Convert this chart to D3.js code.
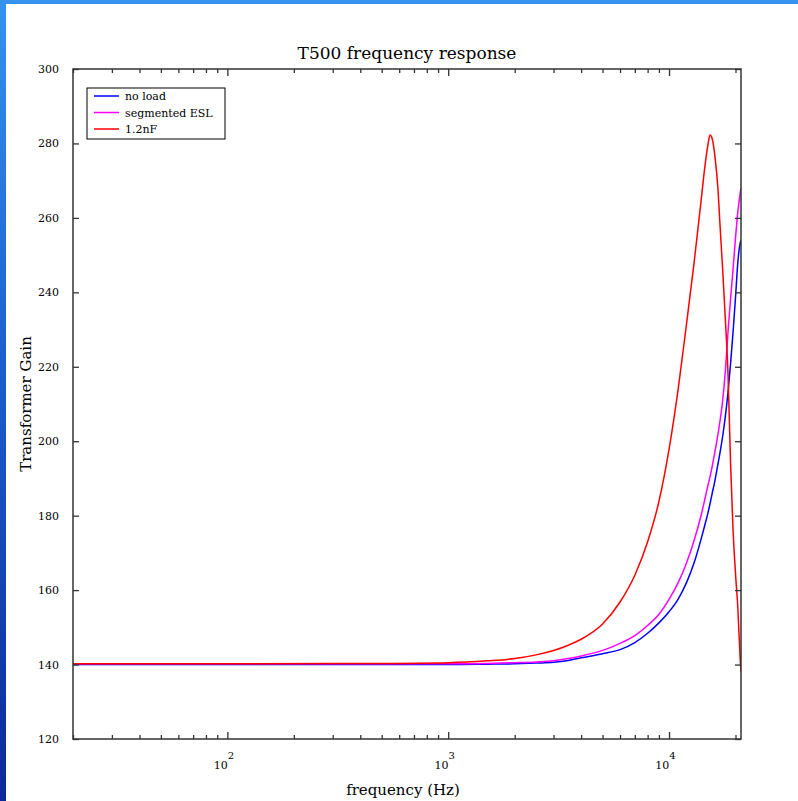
<!DOCTYPE html>
<html>
<head>
<meta charset="utf-8">
<title>T500 frequency response</title>
<script src="https://cdn.jsdelivr.net/npm/d3@7"></script>
<style>
body { margin:0; padding:0; background:#fff; }
text { font-family: "DejaVu Serif", "Liberation Serif", serif; fill:#000; }
</style>
</head>
<body>
<svg id="chart" width="798" height="801"></svg>
<script>
// ---- data ----
var freq = [20, 100, 500, 1000, 1500, 2000, 2500, 3000, 3500, 4000, 5000, 6000, 7000, 8000, 9000,
            10000, 11000, 12000, 13000, 14000, 14500, 15000, 15330, 15700, 16150, 16670, 17000,
            17500, 18000, 18500, 19000, 19500, 20000, 20500, 21000, 21180]

var noLoad = [140, 140, 140, 140, 140.1, 140.2, 140.4, 140.6, 141.1, 141.8, 142.9, 144.0, 145.9, 148.4, 151.2,
              154.2, 157.6, 162.0, 167.4, 173.9, 177.3, 180.7, 183.2, 186.1, 189.5, 194.0, 196.8,
              201.4, 206.8, 213.2, 220.9, 229.4, 238.6, 248.2, 253.2, 254.0]

var segESL = [140.2, 140.2, 140.2, 140.2, 140.3, 140.5, 140.7, 141.0, 141.6, 142.3, 143.8, 145.7, 147.8, 150.5, 153.5,
              157.5, 162.0, 167.3, 173.4, 180.3, 184.2, 188.1, 190.4, 193.4, 197.3, 202.0, 205.3,
              211.0, 219.0, 229.4, 238.3, 246.3, 254.6, 261.7, 266.6, 268.0]

var cap12 = [140.2, 140.2, 140.3, 140.5, 141.0, 141.6, 142.6, 143.8, 145.2, 146.8, 150.9, 156.8, 164.0, 173.0, 183.8,
             197.8, 214.0, 231.5, 248.2, 265.1, 273.3, 279.6, 282.3, 281.2, 276.4, 267.5, 258.5,
             246.0, 232.5, 218.0, 194.0, 176.0, 164.5, 155.0, 141.5, 138.0]

var seriesNames = ["no load", "segmented ESL", "1.2nF"]
var seriesColors = ["#0000ff", "#ff00ff", "#ff0000"]
var yTicks = [120, 140, 160, 180, 200, 220, 240, 260, 280, 300]
var decades = [100, 1000, 10000]

function drawChart() {
  var svg = d3.select("#chart")
  // plot box (note: "top" is reserved on window, so use pTop etc)
  var pLeft = 73, pRight = 741, pTop = 69, pBottom = 739

  // blue slide frame
  var defs = svg.append("defs")
  var grad = defs.append("linearGradient").attr("id", "frameGrad")
    .attr("x1", "0").attr("y1", "0").attr("x2", "0").attr("y2", "1")
  grad.append("stop").attr("offset", "0%").attr("stop-color", "#3592ee")
  grad.append("stop").attr("offset", "45%").attr("stop-color", "#1d5fd0")
  grad.append("stop").attr("offset", "100%").attr("stop-color", "#0b2a98")
  svg.append("rect").attr("x", 0).attr("y", 0).attr("width", 798).attr("height", 4).attr("fill", "#3592ee")
  svg.append("rect").attr("x", 0).attr("y", 0).attr("width", 6).attr("height", 801).attr("fill", "url(#frameGrad)")

  var x = d3.scaleLog().domain([20, 21180]).range([pLeft, pRight])
  var y = d3.scaleLinear().domain([120, 300]).range([pBottom, pTop])

  // minor tick values of the log axis
  var minorTicks = []
  ;[10, 100, 1000, 10000].forEach(function(d) {
    for (var k = 2; k <= 9; k++) {
      var v = d * k
      if (v >= 20 && v <= 21180) minorTicks.push(v)
    }
  })

  defs.append("clipPath").attr("id", "plotClip")
    .append("rect").attr("x", pLeft).attr("y", pTop).attr("width", pRight - pLeft).attr("height", pBottom - pTop)

  // ---- lines ----
  var line = d3.line()
    .x(function(d) { return x(d[0]) })
    .y(function(d) { return y(d[1]) })
    .curve(d3.curveMonotoneX)

  var allSeries = [noLoad, segESL, cap12]
  allSeries.forEach(function(vals, i) {
    svg.append("path")
      .datum(freq.map(function(f, j) { return [f, vals[j]] }))
      .attr("clip-path", "url(#plotClip)")
      .attr("fill", "none")
      .attr("stroke", seriesColors[i])
      .attr("stroke-width", 1.5)
      .attr("d", line)
  })

  // ---- axes (ticks inward) ----
  function styleAxis(g) {
    g.select(".domain").remove()
    g.selectAll(".tick line").attr("stroke", "#333").attr("stroke-width", 1.3)
  }

  svg.append("g").attr("transform", "translate(0," + pBottom + ")")
    .call(d3.axisBottom(x).tickValues(minorTicks).tickSize(-4).tickFormat(""))
    .call(styleAxis)
  svg.append("g").attr("transform", "translate(0," + pTop + ")")
    .call(d3.axisTop(x).tickValues(minorTicks).tickSize(-4).tickFormat(""))
    .call(styleAxis)
  svg.append("g").attr("transform", "translate(0," + pTop + ")")
    .call(d3.axisTop(x).tickValues(decades).tickSize(-7).tickFormat(""))
    .call(styleAxis)

  var xMajor = svg.append("g").attr("transform", "translate(0," + pBottom + ")")
    .call(d3.axisBottom(x).tickValues(decades).tickSize(-7).tickPadding(22).tickFormat(function() { return "10" }))
    .call(styleAxis)
  xMajor.selectAll(".tick text")
    .attr("font-family", "DejaVu Serif")
    .attr("font-size", 11)
    .attr("dx", "-4")
    .each(function(d) {
      d3.select(this).append("tspan")
        .attr("dy", "-10")
        .attr("font-size", 10)
        .text(Math.round(Math.log10(d)))
    })

  var yAxisL = svg.append("g").attr("transform", "translate(" + pLeft + ",0)")
    .call(d3.axisLeft(y).tickValues(yTicks).tickSize(-6).tickPadding(14))
    .call(styleAxis)
  yAxisL.selectAll(".tick text").attr("font-family", "DejaVu Serif").attr("font-size", 11)

  svg.append("g").attr("transform", "translate(" + pRight + ",0)")
    .call(d3.axisRight(y).tickValues(yTicks).tickSize(-6).tickFormat(""))
    .call(styleAxis)

  // frame
  svg.append("rect")
    .attr("x", pLeft).attr("y", pTop).attr("width", pRight - pLeft).attr("height", pBottom - pTop)
    .attr("fill", "none").attr("stroke", "#333").attr("stroke-width", 1.5)

  // ---- titles ----
  svg.append("text").attr("x", (pLeft + pRight) / 2).attr("y", 59)
    .attr("text-anchor", "middle").attr("font-size", 17)
    .text("T500 frequency response")

  svg.append("text").attr("x", (pLeft + pRight) / 2 - 4).attr("y", 795)
    .attr("text-anchor", "middle").attr("font-size", 15)
    .text("frequency (Hz)")

  svg.append("text")
    .attr("transform", "translate(31," + (pTop + pBottom) / 2 + ") rotate(-90)")
    .attr("text-anchor", "middle").attr("font-size", 15)
    .text("Transformer Gain")

  // ---- legend ----
  var legend = svg.append("g").attr("transform", "translate(87,88)")
  legend.append("rect").attr("width", 138).attr("height", 51)
    .attr("fill", "#fff").attr("stroke", "#000").attr("stroke-width", 1)
  seriesNames.forEach(function(name, i) {
    var ly = 8 + i * 16.5
    legend.append("line").attr("x1", 7).attr("x2", 32).attr("y1", ly).attr("y2", ly)
      .attr("stroke", seriesColors[i]).attr("stroke-width", 1.5)
    legend.append("text").attr("x", 38).attr("y", ly + 4)
      .attr("font-size", 11).text(name)
  })
}

drawChart()
</script>
</body>
</html>
